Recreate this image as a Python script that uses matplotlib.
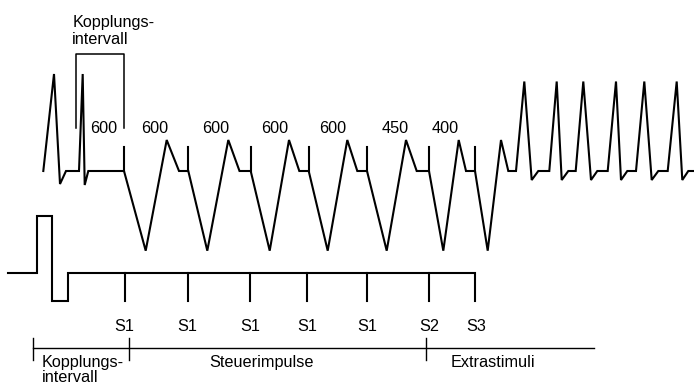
import matplotlib
matplotlib.use("Agg")
import matplotlib.pyplot as plt

plt.rcParams['font.family'] = ['Liberation Sans', 'DejaVu Sans']

# ECG trace vertices (pixel space of the schematic)
ecg_x = [43.3, 54, 60, 66, 79, 82.7, 84.7, 88.3, 124,
         145.7, 166.7, 179, 188.3,
         207.3, 228.3, 239.5, 250.7,
         269.7, 289, 299.3, 308.7,
         327.7, 347.3, 357.3, 367,
         386.7, 406, 416.7, 429,
         443.3, 458.7, 466, 475,
         487.7, 501, 508.3, 516,
         524.3, 531.7, 538.3, 549.3,
         556.7, 561.7, 568.3, 575.7,
         583.3, 591, 597.3, 607.7,
         616, 621, 627.3, 636,
         644.3, 651.7, 658.3, 667.7,
         676.7, 682.3, 688.3, 694]
ecg_y = [171, 74, 184, 171, 171, 74, 185, 171, 171,
         250.7, 140, 171, 171,
         250.7, 140, 171, 171,
         250.7, 140, 171, 171,
         250.7, 140, 171, 171,
         250.7, 140, 171, 171,
         250.7, 140, 171, 171,
         250.7, 140, 171, 171,
         81.5, 180, 171, 171,
         81.5, 180, 171, 171,
         81.5, 180, 171, 171,
         81.5, 180, 171, 171,
         81.5, 180, 171, 171,
         81.5, 180, 171, 171]

# pacing artefacts on ECG
spike_x = [124, 188.3, 250.7, 308.7, 367, 429, 475]
spike_top, spike_base = 146.7, 171

# interval labels
interval_labels = ["600", "600", "600", "600", "600", "450", "400"]
interval_x = [103.7, 154.2, 215.8, 274.5, 333, 394.7, 445.5]
interval_y = 128.5

# stimulation trace
stim_x = [8.3, 37.3, 37.3, 52.3, 52.3, 67.7, 67.7, 475, 475]
stim_y = [272.7, 272.7, 216, 216, 301, 301, 272.7, 272.7, 301]
stim_tick_x = [124.7, 187.7, 250, 307.3, 367.3, 429]
stim_labels = ["S1", "S1", "S1", "S1", "S1", "S2", "S3"]
stim_label_x = [124.7, 187.7, 250, 307.3, 367.3, 429, 476]

# timeline
timeline_x = [33.3, 594]
timeline_y = 348.3
timeline_ticks = [33.3, 129.3, 426]
phase_labels = ["Kopplungs-", "Steuerimpulse", "Extrastimuli"]
phase_label2 = "intervall"

# bracket (coupling interval)
bracket_x = [75.7, 75.7, 123.8, 123.8]
bracket_y = [128.3, 54.3, 54.3, 128.3]

fig = plt.figure(figsize=(6.94, 3.85), dpi=100)
ax = fig.add_axes([0, 0, 1, 1])
ax.set_xlim(0, 694)
ax.set_ylim(385, 0)
ax.axis('off')

lw = 1.5
col = 'black'
fs = 11.7

ax.plot(ecg_x, ecg_y, color=col, lw=lw, solid_joinstyle='miter', zorder=3)
for sx in spike_x:
    ax.plot([sx, sx], [spike_base, spike_top], color=col, lw=lw, zorder=3)

ax.plot(bracket_x, bracket_y, color=col, lw=1.1, zorder=3)
ax.text(72.3, 14.5, "Kopplungs-\nintervall", ha='left', va='top', fontsize=fs,
        color=col, linespacing=1.2)
for lab, x in zip(interval_labels, interval_x):
    ax.text(x, interval_y, lab, ha='center', va='center', fontsize=fs, color=col)

ax.plot(stim_x, stim_y, color=col, lw=lw, solid_joinstyle='miter', zorder=3)
for tx in stim_tick_x:
    ax.plot([tx, tx], [272.7, 301], color=col, lw=lw, zorder=3)
for lab, x in zip(stim_labels, stim_label_x):
    ax.text(x, 326.7, lab, ha='center', va='center', fontsize=fs, color=col)

ax.plot(timeline_x, [timeline_y, timeline_y], color=col, lw=1.0)
for tx in timeline_ticks:
    ax.plot([tx, tx], [337.5, 360], color=col, lw=1.0)

ax.text(41.7, 362.7, phase_labels[0], ha='left', va='center', fontsize=fs, color=col)
ax.text(41.7, 381.5, phase_label2, ha='left', va='baseline', fontsize=fs, color=col)
ax.text(261.7, 362.7, phase_labels[1], ha='center', va='center', fontsize=fs, color=col)
ax.text(493.3, 362.7, phase_labels[2], ha='center', va='center', fontsize=fs, color=col)

fig.savefig("out.png", dpi=100)
